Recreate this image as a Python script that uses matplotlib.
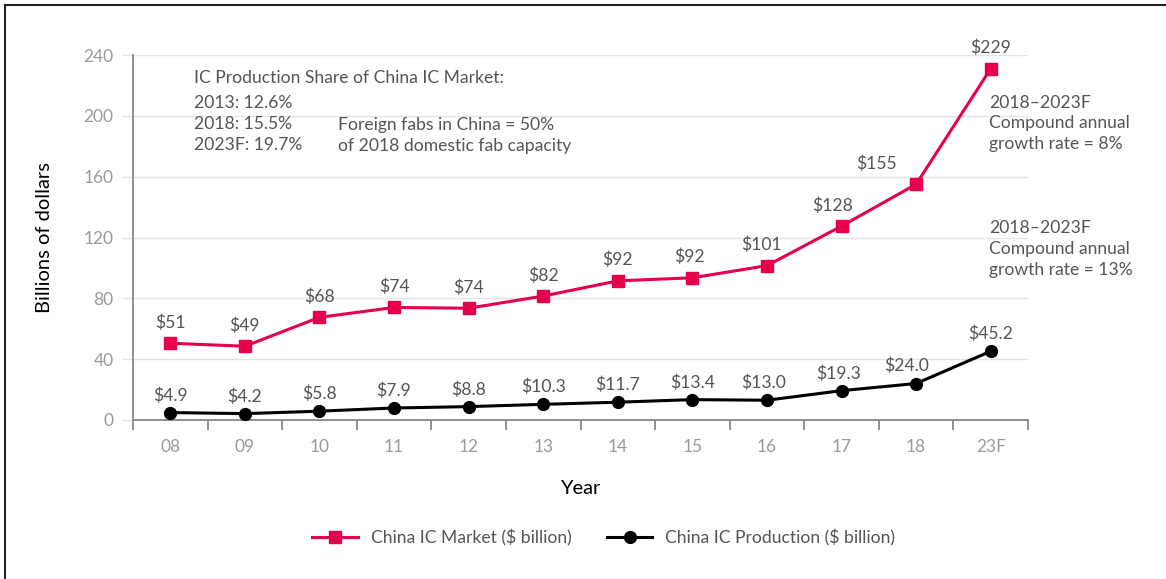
import matplotlib
matplotlib.use("Agg")
import matplotlib.pyplot as plt
from matplotlib.lines import Line2D
import numpy as np

years = ["08", "09", "10", "11", "12", "13", "14", "15", "16", "17", "18", "23F"]
market = [50.5, 48.5, 67.5, 74, 73.5, 81.5, 91.5, 93.5, 101.5, 127.5, 155, 231]
market_labels = ["$51", "$49", "$68", "$74", "$74", "$82", "$92", "$92", "$101", "$128", "$155", "$229"]
production = [4.9, 4.2, 5.8, 7.9, 8.8, 10.3, 11.7, 13.4, 13.0, 19.3, 24.0, 45.2]
production_labels = ["$4.9", "$4.2", "$5.8", "$7.9", "$8.8", "$10.3", "$11.7", "$13.4", "$13.0", "$19.3", "$24.0", "$45.2"]
yticks = [0, 40, 80, 120, 160, 200, 240]

plt.rcParams['font.family'] = ['Lato', 'DejaVu Sans']

RED = '#e6004c'
TXT = '#555555'
TICK = '#9a9a9a'
GRID = '#e3e3e3'
FS = 12.6

fig = plt.figure(figsize=(11.66, 5.79), dpi=100)
ax = fig.add_axes([133/1166, 1-420/579, (1028-133)/1166, (420-55)/579])

x = np.arange(len(years))
ax.plot(x, market, color=RED, lw=2.2, marker='s', ms=8.5, zorder=3,
        label='China IC Market ($ billion)')
ax.plot(x, production, color='black', lw=2.2, marker='o', ms=8.5, zorder=3,
        label='China IC Production ($ billion)')

# data labels
m_dx = [0, 0, 0, 0, 0, 0, 0, -3, -5, -9, -40, 0]
for i, (v, s) in enumerate(zip(market, market_labels)):
    ax.annotate(s, (x[i], v), xytext=(m_dx[i] * 0.72, 9), textcoords='offset points',
                ha='center', va='bottom', fontsize=FS, color=TXT)
p_dx = [0, 0, 0, 0, 0, 0, 0, 0, -3, -3, -10, 0]
for i, (v, s) in enumerate(zip(production, production_labels)):
    ax.annotate(s, (x[i], v), xytext=(p_dx[i] * 0.72, 6.5), textcoords='offset points',
                ha='center', va='bottom', fontsize=FS, color=TXT)

ax.set_xlim(-0.5, len(years) - 0.5)
ax.set_ylim(0, 240)
ax.set_yticks(yticks)
ax.set_yticklabels([str(t) for t in yticks])
ax.set_xticks(x)
ax.set_xticklabels(years)
ax.set_xticks(np.arange(-0.5, len(years), 1.0), minor=True)
ax.tick_params(axis='x', which='major', length=0, pad=14, labelsize=12.5, labelcolor=TICK)
ax.tick_params(axis='x', which='minor', length=7, width=1.3, color='#888888', direction='out')
ax.tick_params(axis='y', which='major', length=8, width=1, color=GRID, pad=6,
               labelsize=12.5, labelcolor=TICK)
ax.yaxis.grid(True, color=GRID, lw=1)
ax.set_axisbelow(True)
for s in ['top', 'right']:
    ax.spines[s].set_visible(False)
ax.spines['left'].set_color('#888888')
ax.spines['left'].set_linewidth(1.3)
ax.spines['bottom'].set_color('#888888')
ax.spines['bottom'].set_linewidth(1.3)

ax.set_xlabel('Year', fontsize=14.5, color='black', labelpad=18)
ax.set_ylabel('Billions of dollars', fontsize=14.5, color='black', labelpad=22)

# annotations
ls = 1.38
ax.text(0.32, 230, "IC Production Share of China IC Market:",
        fontsize=FS, color=TXT, va='top', ha='left')
ax.text(0.32, 213.5, "2013: 12.6%\n2018: 15.5%\n2023F: 19.7%",
        fontsize=FS, color=TXT, va='top', ha='left', linespacing=ls)
ax.text(2.25, 199, "Foreign fabs in China = 50%\nof 2018 domestic fab capacity",
        fontsize=FS, color=TXT, va='top', ha='left', linespacing=ls)
ax.text(10.98, 214, "2018\u20132023F\nCompound annual\ngrowth rate = 8%",
        fontsize=FS, color=TXT, va='top', ha='left', linespacing=ls, clip_on=False)
ax.text(10.98, 131.5, "2018\u20132023F\nCompound annual\ngrowth rate = 13%",
        fontsize=FS, color=TXT, va='top', ha='left', linespacing=ls, clip_on=False)

leg = fig.legend(loc='center', bbox_to_anchor=(0.518, 1-538/579), ncol=2, frameon=False,
                 fontsize=FS, handlelength=2.6, columnspacing=2.0, handletextpad=0.75)
for t in leg.get_texts():
    t.set_color(TXT)

# frame lines (top and left)
fig.add_artist(Line2D([5/1166, 1], [1-5/579, 1-5/579], color='#222222', lw=1.5, transform=fig.transFigure))
fig.add_artist(Line2D([5/1166, 5/1166], [0, 1-5/579], color='#222222', lw=1.5, transform=fig.transFigure))

fig.savefig('out.png', dpi=100)
